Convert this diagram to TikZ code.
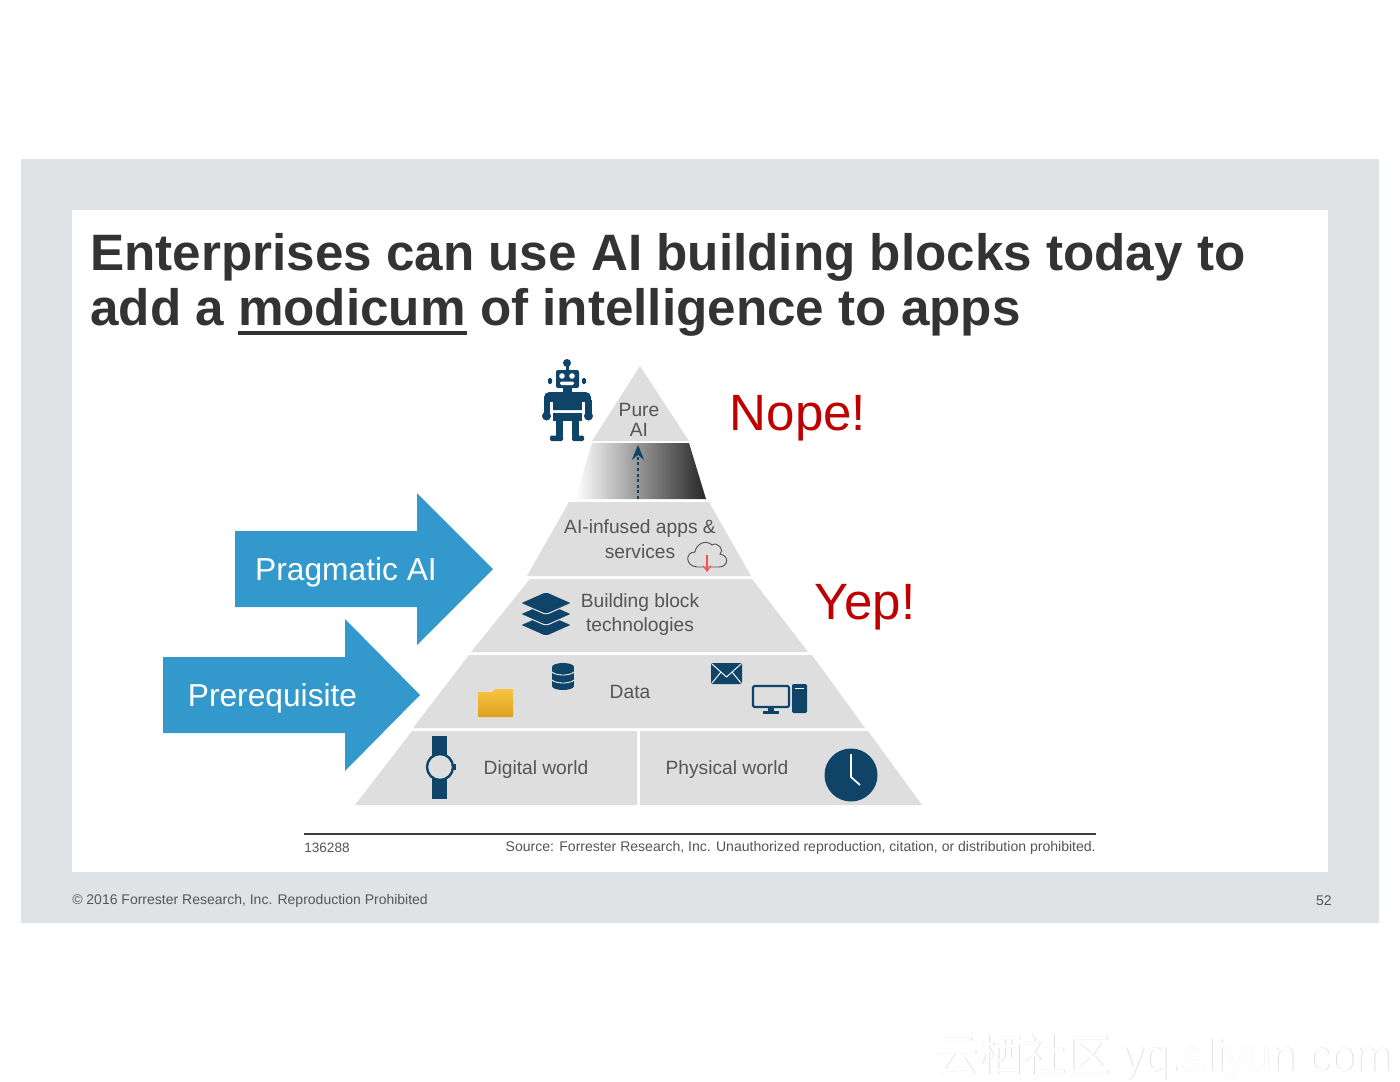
\documentclass[tikz,border=0pt]{standalone}
\usepackage{fontspec}
\setmainfont{Liberation Sans}
\newfontfamily\cjk{Noto Sans CJK SC}
\usetikzlibrary{arrows.meta}
\definecolor{slideframe}{HTML}{DFE3E6}
\definecolor{titleink}{HTML}{333333}
\definecolor{layergray}{HTML}{DEDEDE}
\definecolor{layerink}{HTML}{555555}
\definecolor{arrowblue}{HTML}{3399CC}
\definecolor{iconblue}{HTML}{0F4468}
\definecolor{saidred}{HTML}{C00000}
\definecolor{foldertop}{HTML}{F5C542}
\definecolor{folderlow}{HTML}{E0A020}
\newcommand{\px}[1]{\fontsize{#1}{#1}\selectfont}
\begin{document}
\begin{tikzpicture}[x=0.75pt,y=-0.75pt,
    titleline/.style={anchor=base west,inner sep=0,text=titleink,font=\px{38.4}\bfseries},
    layertext/.style={align=center,inner sep=0,text=layerink,font=\px{14.4}},
    bluearrow/.style={fill=arrowblue},
    arrowtext/.style={inner sep=0,text=white,font=\px{23.8}},
    saidtext/.style={inner sep=0,text=saidred,font=\px{38.3}},
    smallprint/.style={inner sep=0,text=layerink,font=\px{10.2}},
    icon/.style={fill=iconblue},
    iconline/.style={draw=iconblue,line width=1.6pt}]
    \useasboundingbox (0,0) rectangle (1400,1082);
    \fill[white] (0,0) rectangle (1400,1082);
    \fill[slideframe] (21,159) rectangle (1379,923);
    \fill[white] (72,210) rectangle (1328,872);

    % heading
    \node[titleline] (titleone) at (90,270) {Enterprises can use AI building blocks today to};
    \node[titleline] (titletwo) at (90,325) {add a modicum of intelligence to apps};
    \coordinate (underleft) at (238,332.5);
    \coordinate (underright) at (467,332.5);
    \draw[titleink,line width=3pt] (underleft) -- (underright);

    % pyramid layers
    \foreach \tl/\tr/\bl/\br/\top/\bot in {
        640/640/592/689/366/441,
        569/709/527/751/502/576,
        530/752/471/808/579/652,
        469/812/413/865/655/728}
        \fill[layergray] (\tl,\top) -- (\tr,\top) -- (\br,\bot) -- (\bl,\bot) -- cycle;
    \fill[layergray] (412,731) -- (637,731) -- (637,805) -- (355,805) -- cycle;
    \fill[layergray] (640,731) -- (868,731) -- (922,805) -- (640,805) -- cycle;
    \shade[left color=white,middle color=gray!60,right color=black!85]
        (592,443) -- (689,443) -- (706,499) -- (575,499) -- cycle;
    \coordinate (dotlow) at (638,499);
    \coordinate (dothigh) at (638,445);
    \draw[iconblue,line width=2.1pt,dash pattern=on 2.2pt off 2pt,-{Stealth[length=11pt,width=9pt]}] (dotlow) -- (dothigh);

    \node[layertext] (pure) at (639,420) {Pure\\[1pt]AI};
    \node[layertext] (infused) at (640,539) {AI-infused apps \&\\[4pt]services};
    \node[layertext] (block) at (640,614.5) {Building block\\[3pt]technologies};
    \node[layertext] (data) at (630,692) {Data};
    \node[layertext] (digital) at (536,769.5) {Digital world};
    \node[layertext] (physical) at (727,769.5) {Physical world};

    % blue arrows
    \fill[bluearrow] (235,531) -- (417,531) -- (417,493) -- (493,569) -- (417,645) -- (417,607) -- (235,607) -- cycle;
    \fill[bluearrow] (163,657) -- (345,657) -- (345,619) -- (420,695) -- (345,771) -- (345,733) -- (163,733) -- cycle;
    \node[arrowtext] (pragmatic) at (346,572) {Pragmatic AI};
    \node[arrowtext] (prereq) at (272.5,698) {Prerequisite};

    \node[saidtext] (nope) at (798,418) {Nope!};
    \node[saidtext] (yep) at (865,607) {Yep!};

    % robot
    \fill[icon] (567,363) circle (4);
    \fill[icon] (565.5,364) rectangle (568.5,371);
    \fill[icon,rounded corners=1.5pt] (556,370) rectangle (579,388);
    \fill[icon,rounded corners=1pt] (548,378) rectangle (552,384);
    \fill[icon,rounded corners=1pt] (582,378) rectangle (586,384);
    \fill[white] (562,376) circle (2.8);
    \fill[white] (572,376) circle (2.8);
    \fill[white,rounded corners=1pt] (560,381.5) rectangle (574,385);
    \fill[icon] (563,388) rectangle (572,392);
    \fill[icon,rounded corners=4pt] (544,392) rectangle (591,410);
    \fill[icon] (553,400) rectangle (582,410);
    \fill[icon] (543.5,400) rectangle (550,416);
    \fill[icon] (585,400) rectangle (591.5,416);
    \fill[white] (550,402) rectangle (553,422);
    \fill[white] (582,402) rectangle (585,422);
    \fill[icon] (546.5,416) circle (4.5);
    \fill[icon] (588.5,416) circle (4.5);
    \fill[icon] (553,413) rectangle (582,421);
    \fill[icon] (556,421) rectangle (563,436);
    \fill[icon] (572,421) rectangle (579,436);
    \fill[icon,rounded corners=1pt] (550,435.5) rectangle (563,441);
    \fill[icon,rounded corners=1pt] (572,435.5) rectangle (584,441);

    % cloud
    \draw[draw=layerink,line width=0.7pt] (697,567) .. controls (685,566) and (685,552) .. (695,552)
        .. controls (696,544) and (706,539) .. (712,545)
        .. controls (718,541) and (725,551) .. (720,554)
        .. controls (730,556) and (728,567) .. (719,567) -- cycle;
    \coordinate (cloudtop) at (707,555);
    \coordinate (cloudlow) at (707,572);
    \draw[red!70!white,line width=0.8pt,-{Straight Barb[length=4pt,width=6pt]}] (cloudtop) -- (cloudlow);

    % stacked layers
    \foreach \y in {625,614,603}
        \filldraw[icon,draw=layergray,line width=0.8pt,rounded corners=1.5pt] (520,\y) -- (546,\y-11.5) -- (572,\y) -- (546,\y+11.5) -- cycle;

    % database
    \fill[icon] (552,667) rectangle (574,686);
    \fill[icon] (563,667) ellipse (11 and 4);
    \fill[icon] (563,686) ellipse (11 and 4);
    \foreach \y in {672,680}
        \draw[white,line width=0.6pt] (552,\y) .. controls (556,\y+4) and (570,\y+4) .. (574,\y);

    % envelope
    \fill[icon,rounded corners=1pt] (711,663) rectangle (742,684);
    \draw[white,line width=0.7pt] (712,664) -- (726.5,677) -- (741,664);
    \draw[white,line width=0.7pt] (712,683) -- (721,672);
    \draw[white,line width=0.7pt] (741,683) -- (732,672);

    % screen and tower
    \draw[iconline,rounded corners=1pt] (753,686) rectangle (789,707);
    \fill[icon] (768,708) rectangle (774,711);
    \fill[icon] (763,711) rectangle (779,714);
    \fill[icon,rounded corners=1pt] (792,684) rectangle (807,713);
    \draw[white,line width=0.6pt] (795,688) -- (804,688);

    % folder
    \shade[top color=foldertop,bottom color=folderlow]
        (478,692) -- (478,717) -- (513,717) -- (513,689) -- (495,689) -- (492,692) -- cycle;

    % watch
    \fill[icon] (432,736) rectangle (447,799);
    \filldraw[draw=iconblue,fill=layergray,line width=1.8pt] (440,767) circle (13);
    \fill[icon] (453,764) rectangle (456,770);

    % clock
    \fill[icon] (851,775) circle (26.5);
    \draw[white,line width=1.3pt] (851,754) -- (851,777) -- (860,785);

    % footer
    \coordinate (ruleleft) at (304,834);
    \coordinate (ruleright) at (1096,834);
    \draw[layerink!70!black,line width=0.8pt] (ruleleft) -- (ruleright);
    \node[smallprint,anchor=west] (fignum) at (304,848) {136288};
    \node[smallprint,anchor=east,font=\px{10.54}] (source) at (1096,848) {Source: Forrester Research, Inc. Unauthorized reproduction, citation, or distribution prohibited.};
    \node[smallprint,anchor=west,font=\px{10.5}] (copyright) at (72,901) {© 2016 Forrester Research, Inc. Reproduction Prohibited};
    \node[smallprint,anchor=east,font=\px{10.5}] (pagenum) at (1332,901) {52};

    % faint corner mark
    \node[inner sep=0,anchor=base west,text=black!12,font=\px{33}] (markshade) at (934.8,1071.8) {{\cjk 云栖社区} yq.aliyun.com};
    \node[inner sep=0,anchor=base west,text=white,font=\px{33}] (mark) at (934,1071) {{\cjk 云栖社区} yq.aliyun.com};
\end{tikzpicture}
\end{document}
